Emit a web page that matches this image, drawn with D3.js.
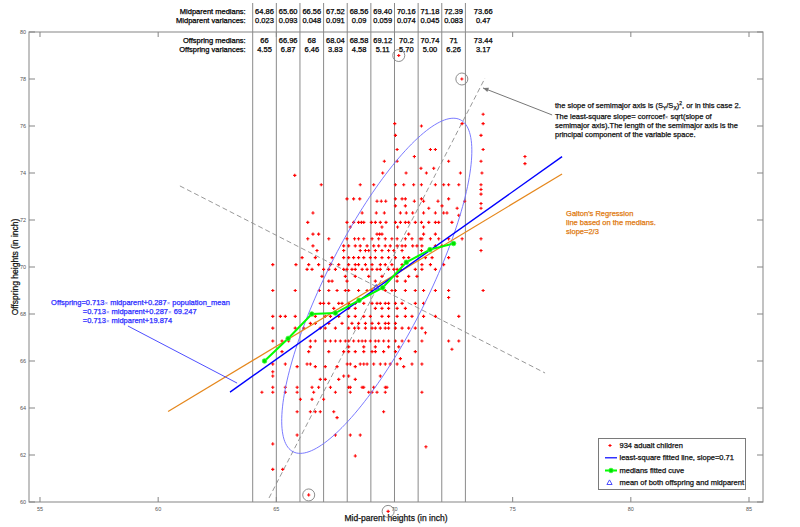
<!DOCTYPE html>
<html><head><meta charset="utf-8">
<script src="https://cdn.jsdelivr.net/npm/d3@7"></script>
<style>body{margin:0;background:#fff;} svg{display:block;font-family:"Liberation Sans",Arial,sans-serif;}
.hv{paint-order:stroke;stroke-width:0.25;}</style>
</head><body><svg id="c" width="800" height="527"></svg>
<script>
// ---------------- data ----------------
const bins = [64,65,66,67,68,69,70,71,72,73];
const midparentMedians   = ["64.86","65.60","66.56","67.52","68.56","69.40","70.16","71.18","72.39","73.66"];
const midparentVariances = ["0.023","0.093","0.048","0.091","0.09","0.059","0.074","0.045","0.083","0.47"];
const offspringMedians   = ["66","66.96","68","68.04","68.58","69.12","70.2","70.74","71","73.44"];
const offspringVariances = ["4.55","6.87","6.46","3.83","4.58","5.11","5.70","5.00","6.26","3.17"];
const xTicks = [55,60,65,70,75,80,85];
const yTicks = [60,62,64,66,68,70,72,74,76,78,80];
// scatter: [offspring height, [midparent heights ...]]
const scatterRows = [
 [79.0,[70.18]],[78.0,[72.85]],
 [76.5,[73.75]],[76.1,[70.01,72.86,73.75]],[76.0,[71.14]],[75.6,[70.04,73.66]],
 [75.0,[70.11,71.52,71.73,73.75]],[74.7,[70.84,75.52]],[74.5,[69.57,70.11,72.29,73.66]],[74.4,[75.52]],
 [74.2,[71.12,71.66]],[74.0,[69.50,70.49,71.35,72.79,73.70]],[73.9,[65.78]],
 [73.5,[66.90,68.55,69.12,70.04,70.39,70.81,71.14,71.73,72.08,72.29,72.72,73.66]],
 [73.3,[73.66]],[73.1,[73.66]],
 [72.9,[67.99,68.27,68.53,70.04,70.32,70.46,71.14,72.29]],
 [72.8,[69.26,69.44,69.63,70.84,71.23,71.84,72.97]],[72.7,[73.66]],
 [72.6,[70.04,70.46,72.01]],[72.5,[71.45,72.65,73.66]],
 [72.3,[66.55,68.63,69.23,69.57,70.25,70.50,70.77,71.23,71.73,72.08,72.22]],[72.2,[72.72]],
 [71.9,[66.33,67.99,68.27,68.48,68.60,68.70,69.02,69.19,69.40,69.64,70.04,70.25,70.46,70.60,70.88,71.14,71.45,71.73,71.87,72.43]],
 [71.7,[68.13,69.47,70.13,71.23]],
 [71.4,[66.55,66.79,69.26,69.37,69.47,70.60,71.23,71.73]],
 [71.2,[66.33,67.22,67.99,68.31,68.48,68.70,69.05,69.33,69.61,69.89,70.11,70.46,70.74,71.09,71.16,71.52,71.87,72.29,72.86,73.66]],
 [70.9,[66.55,67.85,68.06,68.34,68.55,68.84,69.12,69.33,69.61,69.82,70.11,70.32,70.46,70.77,70.95,71.16,71.73,72.01]],
 [70.7,[66.72,67.85,68.55,68.77,68.91,69.19,69.47,69.75,69.97,70.32,71.14,73.66]],
 [70.4,[66.09,66.65,67.36,67.85,68.06,68.27,68.48,68.70,68.98,69.19,69.47,69.75,70.04,70.39,70.60,71.31,71.59,72.29]],
 [70.1,[64.85,65.83,66.37,66.79,67.29,67.64,68.06,68.34,68.48,68.77,69.05,69.40,69.61,69.89,70.32,71.16,71.52,72.08]],
 [69.9,[66.30,66.51,67.00,67.22,67.50,67.85,67.99,68.20,68.34,68.63,68.84,69.05,69.26,69.40,69.75,69.97,70.11,70.25,70.88,71.16,71.73]],
 [69.6,[66.93,67.92,68.34,68.91,69.47,70.11,70.60,70.95]],
 [69.4,[67.22,67.36,67.99,69.19,70.11,70.46]],
 [69.0,[64.85,65.80,66.82,67.22,67.57,67.92,68.06,68.48,68.84,69.05,69.61,69.89,70.04,70.46,70.88,71.23,71.73,72.29,73.75]],
 [68.7,[72.29]],
 [68.45,[66.86,67.00,67.22,67.64,67.78,68.06,68.34,68.70,69.05,69.26,69.40,69.61,69.75,70.04,70.32,70.88,71.23]],
 [68.24,[67.43,68.06,68.34,69.19,69.47,69.75,70.11,70.46]],
 [67.9,[64.85,65.17,65.38,65.80,66.65,67.07,67.29,67.64,68.06,68.34,68.70,68.98,69.47,69.75,70.11,70.46,70.74,71.23,71.73,72.72]],
 [67.6,[66.44,66.65,67.22,67.78,68.20,68.48,68.77,69.05,69.33,69.61,69.75,70.04]],
 [67.4,[64.85,65.80,66.16,66.86,67.07,67.50,68.06,68.31,68.48,68.77,69.05,69.19,69.40,69.61,69.75,70.04,70.32,70.60,70.88,71.16]],
 [67.2,[71.31]],
 [66.85,[64.85,65.24,65.52,66.44,66.65,67.07,67.29,67.50,67.71,67.92,68.06,68.27,68.48,68.63,68.77,68.98,69.19,69.33,69.54,69.75,70.04,70.32,70.60,71.16,72.29,72.72]],
 [66.6,[66.44,68.06,68.70,69.19,69.75,70.18]],[66.5,[72.43]],
 [66.4,[65.24,66.37,67.22,67.85,68.06,68.34,68.70,69.05,69.19,69.54,70.04,70.88]],[66.1,[70.25]],
 [65.87,[64.85,65.38,66.30,66.44,68.00,68.13,68.55,68.70,68.84,69.12,69.40,69.61,69.82,70.11,70.74,71.16]],
 [65.76,[65.88,66.65,67.07,67.57,68.34,70.39]],[65.54,[64.85]],
 [65.36,[64.85,67.85,68.06,69.40]],[65.22,[66.86,67.07,67.64,68.34]],
 [64.88,[64.85,65.38,65.88,66.51,66.79,67.29,68.06,68.13,68.63,68.70,69.12,69.61,69.68]],
 [64.67,[64.39,64.85,65.38,65.88,66.58,67.50,68.13,68.91,69.05,69.26,69.61,71.16]],
 [64.37,[66.02,66.51,67.00]],[63.84,[65.88,66.44,66.65,66.86,67.43,69.54]],[63.59,[67.57]],
 [62.85,[65.88,67.50,68.13,68.55]],[62.47,[64.85]],[62.35,[71.33]],[61.96,[68.34]],
 [61.39,[64.85,65.27]],[60.3,[66.37]],[59.6,[69.73]]
];
const circledOutliers = [[70.18,79.0],[72.85,78.0],[66.37,60.3],[69.73,59.6]];
const fittedLine = {slope:0.713, intercept:19.73, x0:63.04, x1:77.09};
const galtonLine = [[60.42,63.85],[77.09,73.96]];
const majorAxis = [[64.69,60.17],[73.83,78.04]];
const minorAxis = [[60.92,73.45],[76.37,65.49]];
const ellipse = {cx:69.25, cy:69.2, a:7.9, b:2.15, slope:2};
const meanPoint = [69.23,69.15];

// ---------------- layout ----------------
const svg = d3.select("#c");
const L=29, R=763, T=32, B=502;
const x = d3.scaleLinear().domain([54.535,85.592]).range([L,R]);
const y = d3.scaleLinear().domain([60,80]).range([B,T]);
const gray="#858585";

svg.append("rect").attr("x",L).attr("y",T).attr("width",R-L).attr("height",B-T)
  .attr("fill","none").attr("stroke",gray).attr("stroke-width",1);
xTicks.forEach(t=>{
  svg.append("line").attr("x1",x(t)).attr("x2",x(t)).attr("y1",B).attr("y2",B-5).attr("stroke",gray);
  svg.append("line").attr("x1",x(t)).attr("x2",x(t)).attr("y1",T).attr("y2",T+5).attr("stroke",gray);
  svg.append("text").attr("x",x(t)).attr("y",B+8.5).attr("text-anchor","middle")
    .attr("font-size",5.5).attr("fill","#555").text(t);
});
yTicks.forEach(t=>{
  svg.append("line").attr("x1",L).attr("x2",L+6).attr("y1",y(t)).attr("y2",y(t)).attr("stroke",gray);
  svg.append("line").attr("x1",R).attr("x2",R-6).attr("y1",y(t)).attr("y2",y(t)).attr("stroke",gray);
  svg.append("text").attr("x",L-3).attr("y",y(t)+2).attr("text-anchor","end")
    .attr("font-size",5.5).attr("fill","#555").text(t);
});
svg.append("text").attr("x",(L+R)/2).attr("y",521).attr("text-anchor","middle").attr("class","hv").attr("stroke","#111")
  .attr("font-size",8.5).attr("fill","#111").text("Mid-parent heights (in inch)");
svg.append("text").attr("transform",`translate(18,${(T+B)/2}) rotate(-90)`).attr("text-anchor","middle").attr("class","hv").attr("stroke","#111")
  .attr("font-size",8.5).attr("fill","#111").text("Offspring heights (in inch)");

bins.forEach(b=>{
  svg.append("line").attr("x1",x(b)).attr("x2",x(b)).attr("y1",3).attr("y2",B)
    .attr("stroke","#8a8a8a").attr("stroke-width",1);
});
const rowsT=[["Midparent medians:",midparentMedians,13.5],["Midparent variances:",midparentVariances,22.5],
             ["Offspring medians:",offspringMedians,42.5],["Offspring variances:",offspringVariances,51.5]];
rowsT.forEach(([lab,vals,yy])=>{
  svg.append("text").attr("x",x(bins[0])-7).attr("y",yy).attr("text-anchor","end").attr("class","hv").attr("stroke","#000")
    .attr("font-size",7.5).attr("fill","#000").text(lab);
  vals.forEach((v,i)=>{
    const cx = x(bins[i]+0.5) + (i===bins.length-1?6:0);
    svg.append("text").attr("x",cx).attr("y",yy).attr("text-anchor","middle").attr("class","hv").attr("stroke","#000")
      .attr("font-size",7.5).attr("fill","#000").text(v);
  });
});

[majorAxis,minorAxis].forEach(seg=>{
  svg.append("line").attr("x1",x(seg[0][0])).attr("y1",y(seg[0][1])).attr("x2",x(seg[1][0])).attr("y2",y(seg[1][1]))
    .attr("stroke","#8c8c8c").attr("stroke-width",0.9).attr("stroke-dasharray","5,3");
});

const pts=[]; scatterRows.forEach(([yy,xs])=>xs.forEach(xx=>pts.push([xx,yy])));
svg.append("g").selectAll("path").data(pts).join("path")
  .attr("transform",d=>`translate(${x(d[0])},${y(d[1])})`)
  .attr("d","M-1.6,0H1.6M0,-1.6V1.6").attr("stroke","#ff0000").attr("stroke-width",1.1);

const th=Math.atan(ellipse.slope), ux=Math.cos(th), uy=Math.sin(th);
const ep=d3.range(0,361,2).map(a=>{const t=a*Math.PI/180;
  return [ellipse.cx+ellipse.a*Math.cos(t)*ux - ellipse.b*Math.sin(t)*uy,
          ellipse.cy+ellipse.a*Math.cos(t)*uy + ellipse.b*Math.sin(t)*ux];});
svg.append("path").attr("d",d3.line().x(d=>x(d[0])).y(d=>y(d[1]))(ep))
  .attr("fill","none").attr("stroke","#6b6bff").attr("stroke-width",0.9);

svg.append("line").attr("x1",x(galtonLine[0][0])).attr("y1",y(galtonLine[0][1]))
  .attr("x2",x(galtonLine[1][0])).attr("y2",y(galtonLine[1][1])).attr("stroke","#e5871c").attr("stroke-width",1.2);
svg.append("line").attr("x1",x(fittedLine.x0)).attr("y1",y(fittedLine.slope*fittedLine.x0+fittedLine.intercept))
  .attr("x2",x(fittedLine.x1)).attr("y2",y(fittedLine.slope*fittedLine.x1+fittedLine.intercept))
  .attr("stroke","#0000ff").attr("stroke-width",1.4);

const med = bins.slice(0,9).map((b,i)=>[b+0.5,+offspringMedians[i]]);
svg.append("path").attr("d",d3.line().x(d=>x(d[0])).y(d=>y(d[1]))(med))
  .attr("fill","none").attr("stroke","#00ff00").attr("stroke-width",2);
svg.append("g").selectAll("circle").data(med).join("circle")
  .attr("cx",d=>x(d[0])).attr("cy",d=>y(d[1])).attr("r",2.3)
  .attr("fill","#00e000").attr("stroke","#33ff33").attr("stroke-width",0.8);

svg.append("path").attr("transform",`translate(${x(meanPoint[0])},${y(meanPoint[1])})`)
  .attr("d","M0,-2.6L2.6,2L-2.6,2Z").attr("fill","none").attr("stroke","#3a3aff").attr("stroke-width",0.9);

circledOutliers.forEach(d=>{
  svg.append("circle").attr("cx",x(d[0])).attr("cy",y(d[1])).attr("r",6)
    .attr("fill","none").attr("stroke","#808080").attr("stroke-width",0.9);
});

function arrow(p0,p1,color,w,head){
  const X0=x(p0[0]),Y0=y(p0[1]),X1=x(p1[0]),Y1=y(p1[1]);
  svg.append("line").attr("x1",X0).attr("y1",Y0).attr("x2",X1).attr("y2",Y1).attr("stroke",color).attr("stroke-width",w);
  if(head){const ang=Math.atan2(Y1-Y0,X1-X0),h=head;
    const a1=[X1-h*Math.cos(ang-0.4),Y1-h*Math.sin(ang-0.4)],a2=[X1-h*Math.cos(ang+0.4),Y1-h*Math.sin(ang+0.4)];
    svg.append("path").attr("d",`M${X1},${Y1}L${a1}L${a2}Z`).attr("fill",color);}
}
arrow([76.67,76.47],[73.745,77.62],"#777",1,6);
arrow([58.72,67.49],[63.34,65.06],"#3a3aff",0.9,0);

const fs=7.5;
function T_(xx,yy,color){return svg.append("text").attr("x",xx).attr("y",yy).attr("font-size",fs)
  .attr("fill",color).attr("stroke",color).attr("class","hv");}
const ax=x(76.79), ay=y(76.75);
const ta=T_(ax,ay,"#111");
ta.append("tspan").text("the slope of semimajor axis is (S");
ta.append("tspan").attr("font-size",5).attr("dy",1.5).text("Y");
ta.append("tspan").attr("dy",-1.5).text("/S");
ta.append("tspan").attr("font-size",5).attr("dy",1.5).text("X");
ta.append("tspan").attr("dy",-1.5).text(")");
ta.append("tspan").attr("font-size",5).attr("dy",-3).text("2");
ta.append("tspan").attr("dy",3).text(", or in this case 2.");
const tb=T_(ax,ay+11,"#111");
tb.append("tspan").text("The least-square slope= corrcoef");
tb.append("tspan").attr("font-size",6).attr("fill","#666").attr("stroke","none").text("×");
tb.append("tspan").text(" sqrt(slope of");
T_(ax,ay+19.5,"#111").text("semimajor axis).The length of the semimajor axis is the");
T_(ax,ay+28.5,"#111").text("principal component of the variable space.");

const blue="#2b2bff";
function eqLine(xx,dy,parts){
  const t=T_(x(xx),y(68.37)+dy,blue);
  parts.forEach(p=>{ if(p==="×") t.append("tspan").attr("font-size",6).attr("fill","#7a7aff").attr("stroke","none").text("×");
                     else t.append("tspan").text(p);});
}
eqLine(55.47,0,["Offspring=0.713","×"," midparent+0.287","×"," population_mean"]);
eqLine(56.81,8.6,["=0.713","×"," midparent+0.287","×"," 69.247"]);
eqLine(56.81,17.2,["=0.713","×"," midparent+19.874"]);

const orange="#e07a10";
["Galton's Regression","line based on the medians.","slope=2/3"].forEach((s,i)=>{
  T_(x(77.26),y(72.19)+i*9,orange).attr("stroke-width",0.15).text(s);
});

const lg=svg.append("g");
lg.append("rect").attr("x",598.5).attr("y",438.5).attr("width",147).attr("height",51)
  .attr("fill","#fff").attr("stroke","#7a7a7a").attr("stroke-width",1);
const ly=[445.5,457.8,470.5,482.5];
lg.append("path").attr("transform",`translate(610,${ly[0]})`).attr("d","M-1.6,0H1.6M0,-1.6V1.6").attr("stroke","#ff0000").attr("stroke-width",1.1);
lg.append("line").attr("x1",605).attr("x2",617).attr("y1",ly[1]).attr("y2",ly[1]).attr("stroke","#0000ff").attr("stroke-width",1.2);
lg.append("line").attr("x1",605).attr("x2",617).attr("y1",ly[2]).attr("y2",ly[2]).attr("stroke","#00ff00").attr("stroke-width",2);
lg.append("circle").attr("cx",611).attr("cy",ly[2]).attr("r",2.3).attr("fill","#00e000").attr("stroke","#33ff33").attr("stroke-width",0.8);
lg.append("path").attr("transform",`translate(609.5,${ly[3]})`).attr("d","M0,-2.6L2.6,2L-2.6,2Z").attr("fill","none").attr("stroke","#3a3aff").attr("stroke-width",0.9);
["934 adualt children","least-square fitted line, slope=0.71","medians fitted cuve","mean of both offspring and midparent"]
  .forEach((s,i)=>T_(619.5,ly[i]+2.6,"#111").text(s));
</script></body></html>
